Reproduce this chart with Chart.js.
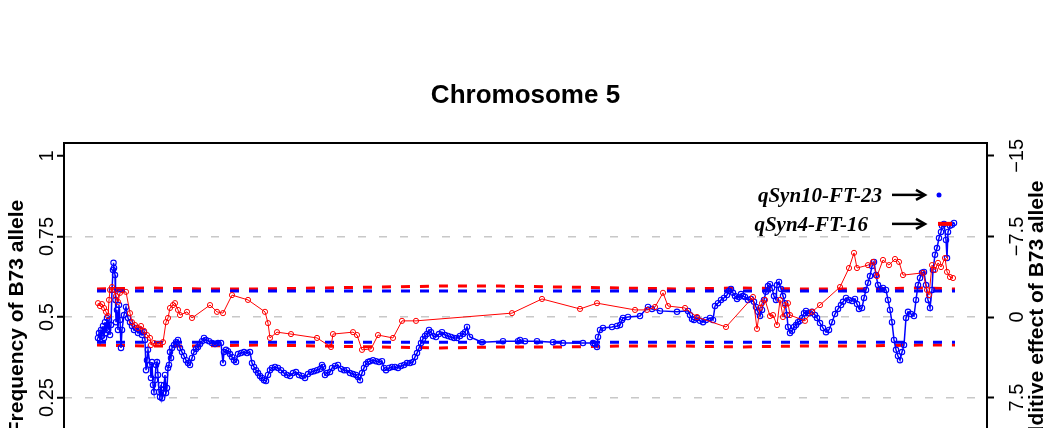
<!DOCTYPE html>
<html><head><meta charset="utf-8">
<script src="https://cdn.jsdelivr.net/npm/chart.js@4.4.1/dist/chart.umd.min.js"></script>
<style>html,body{margin:0;padding:0;background:#fff;overflow:hidden;} #wrap{width:1054px;height:560px;}</style>
</head><body><div id="wrap"><canvas id="c" width="1054" height="560"></canvas></div>
<script>
// Position along chromosome (Mb) and frequency of B73 allele
const bluePos = [0.25,0.5,0.75,1.0,1.25,1.5,1.75,2.0,2.25,2.5,2.75,3.0,3.25,3.5,3.75,4.0,4.13,4.25,4.5,4.63,4.75,5.0,5.25,5.5,5.75,6.0,6.25,6.75,7.25,7.75,8.25,8.75,9.25,9.75,10.25,10.75,11.25,11.75,12.0,12.25,12.5,12.75,13.25,13.5,13.75,14.0,14.25,14.5,14.75,15.0,15.25,15.5,15.75,16.0,16.25,16.5,16.75,17.0,17.25,17.5,17.75,18.0,18.25,18.5,18.75,19.25,19.75,20.25,20.75,21.25,21.75,22.25,22.75,23.25,23.75,24.25,24.75,25.25,25.75,26.25,26.75,27.25,28.0,28.75,29.5,30.25,31.0,31.5,31.75,32.25,32.75,33.25,33.75,34.25,34.75,35.25,36.0,36.75,37.5,38.25,38.75,39.25,39.75,40.25,40.75,41.25,41.75,42.25,42.75,43.25,43.75,44.5,45.25,46.0,46.75,47.5,48.25,49.0,49.75,50.5,51.25,52.0,52.75,53.5,54.25,55.0,55.75,56.25,56.5,57.0,57.5,58.25,58.75,59.5,60.25,61.0,61.75,62.5,63.25,64.0,64.75,65.25,65.75,66.25,66.75,67.25,67.75,68.25,69.0,69.75,70.5,71.25,71.75,72.25,73.0,73.75,74.5,75.25,76.0,76.75,77.5,78.25,79.0,79.5,80.0,80.5,81.0,81.5,82.0,82.5,83.0,83.5,84.0,84.75,85.5,86.25,87.0,87.75,88.5,89.25,90.0,90.75,91.5,92.0,92.5,93.25,96.25,101.5,105.25,105.75,107.0,110.0,114.0,116.5,121.5,124.0,124.5,125.0,125.25,125.75,126.5,128.75,130.0,130.75,131.25,131.5,132.75,135.75,137.75,138.75,140.75,145.0,147.75,148.25,148.75,149.25,150.0,150.75,151.5,152.25,153.25,154.0,154.5,155.25,156.0,156.75,157.5,158.0,158.5,159.0,159.5,160.0,160.5,161.0,161.5,162.0,162.75,163.5,164.25,164.75,165.25,165.75,166.25,166.75,167.25,167.75,168.25,168.75,169.25,169.75,170.0,170.5,171.0,171.5,172.0,172.5,172.75,173.25,173.75,174.25,174.75,175.25,175.75,176.25,176.75,177.25,177.75,178.25,178.75,179.5,180.0,180.75,181.5,182.25,183.0,183.75,184.5,185.25,186.0,186.5,187.25,188.0,188.75,189.5,190.0,190.5,191.25,191.75,192.25,192.75,193.25,193.75,194.25,194.75,195.25,195.75,196.5,197.25,197.75,198.25,198.75,199.25,199.75,200.25,200.75,201.25,201.75,202.25,202.75,203.5,204.25,204.75,205.25,205.75,206.25,206.75,207.25,207.75,208.25,208.75,209.0,209.5,210.0,210.5,211.0,211.25,211.75,212.25,212.5,212.75,213.25,213.75,214.25];
const blueFreq = [0.435,0.450,0.429,0.460,0.441,0.472,0.435,0.484,0.450,0.497,0.460,0.491,0.444,0.475,0.584,0.646,0.668,0.652,0.630,0.553,0.484,0.522,0.460,0.537,0.491,0.404,0.460,0.506,0.531,0.497,0.484,0.472,0.460,0.466,0.450,0.460,0.444,0.453,0.429,0.335,0.366,0.398,0.351,0.311,0.360,0.289,0.267,0.304,0.351,0.360,0.320,0.267,0.252,0.289,0.248,0.264,0.289,0.320,0.264,0.280,0.342,0.351,0.391,0.373,0.404,0.413,0.422,0.429,0.404,0.391,0.379,0.366,0.357,0.351,0.373,0.391,0.401,0.407,0.416,0.425,0.435,0.429,0.425,0.419,0.416,0.419,0.419,0.357,0.391,0.398,0.394,0.385,0.376,0.366,0.360,0.385,0.388,0.391,0.388,0.391,0.357,0.345,0.335,0.326,0.317,0.311,0.304,0.301,0.320,0.335,0.342,0.345,0.342,0.335,0.326,0.320,0.317,0.326,0.329,0.320,0.317,0.311,0.323,0.329,0.332,0.335,0.339,0.351,0.345,0.320,0.326,0.329,0.342,0.348,0.351,0.339,0.335,0.335,0.326,0.323,0.320,0.314,0.304,0.326,0.342,0.354,0.360,0.363,0.366,0.363,0.360,0.363,0.342,0.335,0.342,0.345,0.345,0.342,0.348,0.351,0.357,0.357,0.360,0.376,0.388,0.404,0.419,0.432,0.441,0.447,0.460,0.453,0.441,0.438,0.447,0.453,0.444,0.441,0.438,0.435,0.435,0.441,0.447,0.453,0.469,0.438,0.422,0.425,0.425,0.429,0.425,0.425,0.422,0.419,0.419,0.419,0.416,0.407,0.438,0.460,0.466,0.469,0.472,0.475,0.491,0.497,0.500,0.503,0.531,0.525,0.519,0.516,0.519,0.506,0.494,0.491,0.497,0.488,0.484,0.491,0.497,0.491,0.534,0.543,0.553,0.559,0.568,0.581,0.587,0.575,0.565,0.556,0.562,0.571,0.565,0.562,0.553,0.556,0.547,0.531,0.516,0.503,0.522,0.553,0.578,0.596,0.602,0.590,0.565,0.553,0.599,0.609,0.587,0.565,0.543,0.506,0.469,0.450,0.457,0.469,0.475,0.484,0.488,0.497,0.512,0.519,0.512,0.512,0.516,0.506,0.497,0.481,0.466,0.453,0.460,0.484,0.509,0.525,0.537,0.547,0.559,0.553,0.550,0.556,0.540,0.525,0.528,0.559,0.584,0.606,0.627,0.658,0.671,0.630,0.599,0.587,0.590,0.584,0.553,0.522,0.484,0.429,0.398,0.379,0.366,0.391,0.413,0.497,0.516,0.509,0.503,0.553,0.599,0.621,0.637,0.640,0.599,0.553,0.528,0.584,0.646,0.693,0.714,0.745,0.764,0.783,0.789,0.739,0.683,0.764,0.783,0.786,0.792];
const redPos = [0.25,0.75,1.25,1.75,2.25,2.75,3.0,3.25,3.75,4.25,4.75,5.25,5.75,7.25,8.25,8.75,9.5,10.25,11.0,11.75,12.5,13.25,13.5,14.25,15.25,16.5,17.25,17.75,18.25,19.0,19.5,20.25,20.75,22.5,23.75,28.25,30.0,31.5,33.75,37.75,42.0,42.75,43.25,45.0,48.5,55.0,58.5,59.0,64.0,65.0,66.25,68.5,70.25,74.0,76.25,79.75,103.75,111.25,120.75,125.0,134.5,137.5,139.5,141.5,142.75,147.0,150.0,157.25,164.0,165.0,165.75,166.25,167.0,168.25,169.0,170.0,170.75,171.5,172.0,172.75,173.25,177.0,178.75,180.75,185.75,188.0,189.25,190.0,192.75,194.0,195.0,196.5,198.0,199.5,200.5,201.5,206.5,207.5,208.0,208.75,209.5,210.25,211.0,212.0,212.5,213.25,214.0];
const redFreq = [0.543,0.534,0.540,0.528,0.516,0.503,0.553,0.584,0.593,0.584,0.565,0.547,0.575,0.578,0.512,0.484,0.475,0.466,0.472,0.457,0.444,0.435,0.413,0.419,0.416,0.422,0.484,0.497,0.528,0.537,0.543,0.522,0.506,0.516,0.497,0.537,0.516,0.512,0.568,0.553,0.516,0.481,0.435,0.453,0.447,0.435,0.407,0.447,0.453,0.444,0.398,0.401,0.444,0.435,0.488,0.488,0.512,0.556,0.525,0.543,0.522,0.522,0.531,0.575,0.534,0.528,0.500,0.469,0.562,0.463,0.528,0.543,0.553,0.503,0.506,0.475,0.553,0.500,0.537,0.543,0.506,0.488,0.516,0.537,0.593,0.652,0.699,0.652,0.661,0.671,0.627,0.677,0.661,0.680,0.671,0.630,0.637,0.584,0.568,0.661,0.646,0.668,0.655,0.683,0.640,0.624,0.621];
// Significance thresholds
const blueThrPos = [0, 214.5];
const blueThrUpper = [0.581, 0.581];
const blueThrLower = [0.422, 0.422];
const redThrPos = [0,13.25,25.75,40.75,55.75,70.75,85.75,100.75,115.75,130.75,145.75,160.75,175.75,190.75,205.75,214.5];
const redThrUpper = [0.587,0.590,0.587,0.587,0.590,0.593,0.596,0.596,0.593,0.590,0.587,0.590,0.587,0.587,0.590,0.587];
const redThrLower = [0.413,0.410,0.410,0.413,0.410,0.407,0.404,0.407,0.407,0.410,0.410,0.407,0.410,0.410,0.413,0.413];
// Axes
const leftTicks = [0, 0.25, 0.5, 0.75, 1];
const leftTickLabels = ['0', '0.25', '0.5', '0.75', '1'];
const rightTicks = [-15, -7.5, 0, 7.5, 15];
const rightTickLabels = ['\u221215', '\u22127.5', '0', '7.5', '15'];
// QTL annotations
const qtlNames = ['qSyn10-FT-23', 'qSyn4-FT-16'];
const qtlFreq = [0.879, 0.789];
const qtlMarkStart = [210.5, 210.25];
const qtlMarkEnd = [210.5, 213.75];

const toXY = (xs, ys) => xs.map((x, i) => ({x: x, y: ys[i]}));
const SANS = '"Liberation Sans", Arial, Helvetica, sans-serif';

const textPlugin = {
  id: 'textPlugin',
  afterDraw(chart) {
    const {ctx, chartArea: a, scales} = chart;
    const y = scales.y, y2 = scales.y2, x = scales.x;
    ctx.save();
    // frame
    ctx.strokeStyle = '#000'; ctx.lineWidth = 2;
    ctx.strokeRect(a.left, a.top, a.right - a.left, a.bottom - a.top);
    // title
    ctx.fillStyle = '#000';
    ctx.font = 'bold 26px ' + SANS;
    ctx.textAlign = 'center'; ctx.textBaseline = 'alphabetic';
    ctx.fillText('Chromosome 5', (a.left + a.right) / 2, 103);
    // tick labels
    ctx.font = '20px ' + SANS;
    const rot = (txt, px, py) => { ctx.save(); ctx.translate(px, py); ctx.rotate(-Math.PI / 2); ctx.fillText(txt, 0, 0); ctx.restore(); };
    leftTicks.forEach((v, i) => rot(leftTickLabels[i], a.left - 11, y.getPixelForValue(v)));
    rightTicks.forEach((v, i) => rot(rightTickLabels[i], a.right + 36, y2.getPixelForValue(v)));
    // axis titles
    ctx.font = 'bold 21px ' + SANS;
    const cy = (a.top + a.bottom) / 2;
    rot('Frequency of B73 allele', 23, cy);
    rot('Additive effect of B73 allele', 1043, cy);
    // QTL labels with arrows
    ctx.font = 'italic bold 21px "Liberation Serif", "Times New Roman", serif';
    ctx.textAlign = 'right';
    const labelEnds = [196.25, 192.75];
    qtlNames.forEach((name, i) => {
      const py = y.getPixelForValue(qtlFreq[i]);
      ctx.fillText(name, x.getPixelForValue(labelEnds[i]), py + 7);
      const x1 = x.getPixelForValue(198.75), x2 = x.getPixelForValue(207);
      ctx.lineWidth = 2.5; ctx.strokeStyle = '#000';
      ctx.beginPath(); ctx.moveTo(x1, py); ctx.lineTo(x2 - 1, py); ctx.stroke();
      ctx.beginPath(); ctx.moveTo(x2 - 9, py - 5); ctx.lineTo(x2, py); ctx.lineTo(x2 - 9, py + 5); ctx.stroke();
    });
    ctx.restore();
  }
};

const dash = [9, 10];
new Chart(document.getElementById('c'), {
  type: 'line',
  data: {
    datasets: [
      {data: toXY(redThrPos, redThrUpper), borderColor: '#ff0000', borderWidth: 3, borderDash: dash, pointRadius: 0, order: 6},
      {data: toXY(redThrPos, redThrLower), borderColor: '#ff0000', borderWidth: 3, borderDash: dash, pointRadius: 0, order: 6},
      {data: toXY(blueThrPos, blueThrUpper), borderColor: '#0000ff', borderWidth: 3, borderDash: dash, pointRadius: 0, order: 5},
      {data: toXY(blueThrPos, blueThrLower), borderColor: '#0000ff', borderWidth: 3, borderDash: dash, pointRadius: 0, order: 5},
      {data: toXY(bluePos, blueFreq), borderColor: '#0000ff', borderWidth: 1.5, pointRadius: 2.7, pointBorderWidth: 1.1, pointBorderColor: '#0000ff', pointBackgroundColor: 'rgba(0,0,0,0)', order: 4},
      {data: toXY(redPos, redFreq), borderColor: '#ff0000', borderWidth: 1, pointRadius: 2.6, pointBorderWidth: 1, pointBorderColor: '#ff0000', pointBackgroundColor: 'rgba(0,0,0,0)', order: 3},
      {data: [{x: qtlMarkStart[0], y: qtlFreq[0]}], showLine: false, pointRadius: 2.5, pointBorderWidth: 0, pointBackgroundColor: '#0000ff', order: 1},
      {data: [{x: qtlMarkStart[1], y: qtlFreq[1]}, {x: qtlMarkEnd[1], y: qtlFreq[1]}], borderColor: '#ff0000', borderWidth: 4, pointRadius: 0, order: 1}
    ]
  },
  options: {
    responsive: false, animation: false, devicePixelRatio: 1,
    layout: {padding: {top: 143, bottom: 69, left: 0, right: 0}},
    plugins: {legend: {display: false}, tooltip: {enabled: false}},
    elements: {line: {tension: 0, fill: false}},
    scales: {
      x: {type: 'linear', min: -8.25, max: 222.5, display: false},
      y: {
        position: 'left', min: -0.04, max: 1.04,
        afterBuildTicks: s => { s.ticks = leftTicks.map(v => ({value: v})); },
        afterFit: s => { s.width = 64; },
        ticks: {display: false},
        border: {display: false, dash: [8, 13]},
        grid: {
          color: c => (c.tick && [0.25, 0.5, 0.75].includes(c.tick.value)) ? '#c8c8c8' : 'rgba(0,0,0,0)',
          lineWidth: 1.5, drawTicks: true, tickLength: 7, tickColor: '#000', tickWidth: 2
        }
      },
      y2: {
        position: 'right', min: -16.2, max: 16.2, reverse: true,
        afterBuildTicks: s => { s.ticks = rightTicks.map(v => ({value: v})); },
        afterFit: s => { s.width = 67; },
        ticks: {display: false},
        border: {display: false},
        grid: {drawOnChartArea: false, drawTicks: true, tickLength: 7, tickColor: '#000', tickWidth: 2}
      }
    }
  },
  plugins: [textPlugin]
});
</script>
</body></html>
